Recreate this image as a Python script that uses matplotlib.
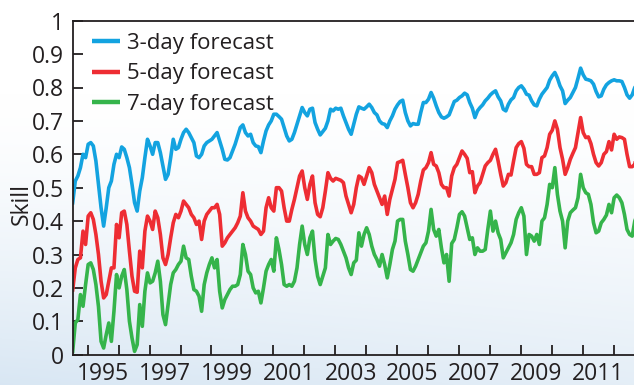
import numpy as np
import matplotlib
matplotlib.use("Agg")
import matplotlib.pyplot as plt
from matplotlib.ticker import FixedLocator, FixedFormatter, NullFormatter

# Monthly forecast skill, first sample at mid-1994
start_year = 1994.515

skill_3day = [
    0.455, 0.520, 0.535, 0.560, 0.600, 0.590, 0.630, 0.635, 0.625, 0.580, 0.510, 0.440,
    0.385, 0.440, 0.500, 0.520, 0.570, 0.600, 0.590, 0.622, 0.615, 0.590, 0.560, 0.510,
    0.455, 0.430, 0.490, 0.530, 0.590, 0.645, 0.625, 0.600, 0.635, 0.635, 0.605, 0.565,
    0.525, 0.540, 0.590, 0.645, 0.615, 0.620, 0.645, 0.665, 0.675, 0.665, 0.650, 0.635,
    0.595, 0.590, 0.600, 0.625, 0.635, 0.640, 0.645, 0.655, 0.665, 0.640, 0.615, 0.585,
    0.583, 0.590, 0.610, 0.630, 0.655, 0.680, 0.688, 0.665, 0.655, 0.660, 0.635, 0.625,
    0.623, 0.605, 0.640, 0.670, 0.688, 0.700, 0.720, 0.720, 0.713, 0.705, 0.680, 0.655,
    0.640, 0.645, 0.665, 0.690, 0.715, 0.740, 0.725, 0.715, 0.735, 0.738, 0.695, 0.675,
    0.658, 0.668, 0.678, 0.700, 0.735, 0.730, 0.738, 0.735, 0.738, 0.715, 0.695, 0.675,
    0.660, 0.690, 0.720, 0.742, 0.738, 0.735, 0.742, 0.750, 0.740, 0.725, 0.718, 0.700,
    0.692, 0.690, 0.680, 0.700, 0.715, 0.735, 0.748, 0.758, 0.762, 0.725, 0.700, 0.685,
    0.692, 0.690, 0.690, 0.725, 0.755, 0.755, 0.765, 0.785, 0.768, 0.745, 0.725, 0.712,
    0.708, 0.712, 0.718, 0.738, 0.758, 0.762, 0.770, 0.775, 0.783, 0.778, 0.755, 0.738,
    0.710, 0.730, 0.740, 0.748, 0.760, 0.768, 0.778, 0.785, 0.790, 0.772, 0.760, 0.735,
    0.730, 0.750, 0.763, 0.770, 0.790, 0.800, 0.805, 0.795, 0.780, 0.777, 0.760, 0.748,
    0.745, 0.765, 0.780, 0.790, 0.800, 0.822, 0.835, 0.845, 0.828, 0.805, 0.790, 0.752,
    0.762, 0.770, 0.785, 0.800, 0.828, 0.858, 0.838, 0.825, 0.823, 0.820, 0.810, 0.788,
    0.772, 0.775, 0.795, 0.808, 0.815, 0.820, 0.823, 0.820, 0.820, 0.818, 0.800, 0.778,
    0.768, 0.778, 0.800, 0.810,
]

skill_5day = [
    0.194, 0.260, 0.285, 0.290, 0.370, 0.330, 0.415, 0.425, 0.405, 0.360, 0.300, 0.220,
    0.170, 0.180, 0.220, 0.260, 0.260, 0.390, 0.350, 0.425, 0.430, 0.390, 0.310, 0.235,
    0.190, 0.187, 0.310, 0.260, 0.370, 0.415, 0.400, 0.375, 0.430, 0.410, 0.360, 0.290,
    0.270, 0.300, 0.350, 0.395, 0.420, 0.410, 0.430, 0.460, 0.450, 0.440, 0.420, 0.410,
    0.390, 0.400, 0.345, 0.400, 0.420, 0.430, 0.440, 0.440, 0.450, 0.420, 0.325, 0.335,
    0.350, 0.360, 0.370, 0.380, 0.395, 0.415, 0.485, 0.430, 0.410, 0.400, 0.385, 0.380,
    0.375, 0.360, 0.370, 0.440, 0.470, 0.440, 0.430, 0.500, 0.500, 0.490, 0.440, 0.400,
    0.400, 0.435, 0.465, 0.500, 0.535, 0.550, 0.500, 0.465, 0.510, 0.535, 0.455, 0.420,
    0.413, 0.440, 0.490, 0.545, 0.528, 0.520, 0.528, 0.525, 0.522, 0.515, 0.475, 0.450,
    0.425, 0.450, 0.500, 0.535, 0.530, 0.510, 0.535, 0.560, 0.545, 0.510, 0.490, 0.470,
    0.450, 0.475, 0.420, 0.465, 0.495, 0.525, 0.575, 0.578, 0.582, 0.540, 0.500, 0.455,
    0.440, 0.455, 0.480, 0.520, 0.553, 0.560, 0.575, 0.605, 0.570, 0.565, 0.545, 0.510,
    0.500, 0.500, 0.475, 0.535, 0.560, 0.570, 0.590, 0.610, 0.600, 0.588, 0.545, 0.548,
    0.485, 0.505, 0.515, 0.540, 0.565, 0.575, 0.582, 0.600, 0.615, 0.580, 0.540, 0.505,
    0.515, 0.540, 0.538, 0.580, 0.620, 0.632, 0.638, 0.618, 0.570, 0.563, 0.563, 0.540,
    0.540, 0.545, 0.590, 0.595, 0.620, 0.660, 0.672, 0.700, 0.675, 0.620, 0.585, 0.540,
    0.560, 0.585, 0.603, 0.620, 0.665, 0.710, 0.665, 0.650, 0.652, 0.632, 0.600, 0.575,
    0.565, 0.575, 0.600, 0.608, 0.638, 0.613, 0.660, 0.645, 0.652, 0.650, 0.645, 0.600,
    0.563, 0.563, 0.570, 0.610,
]

skill_7day = [
    0.010, 0.095, 0.105, 0.180, 0.145, 0.210, 0.270, 0.275, 0.255, 0.210, 0.144, 0.040,
    0.020, 0.060, 0.095, 0.040, 0.130, 0.240, 0.200, 0.235, 0.255, 0.195, 0.100, 0.050,
    0.010, 0.030, 0.150, 0.085, 0.190, 0.245, 0.215, 0.220, 0.245, 0.280, 0.220, 0.120,
    0.090, 0.150, 0.210, 0.245, 0.255, 0.270, 0.280, 0.325, 0.290, 0.285, 0.235, 0.195,
    0.190, 0.175, 0.130, 0.210, 0.245, 0.270, 0.290, 0.260, 0.285, 0.190, 0.140, 0.165,
    0.180, 0.195, 0.205, 0.205, 0.210, 0.240, 0.330, 0.300, 0.250, 0.240, 0.200, 0.185,
    0.190, 0.155, 0.200, 0.250, 0.270, 0.285, 0.250, 0.350, 0.315, 0.270, 0.210, 0.205,
    0.210, 0.205, 0.220, 0.260, 0.330, 0.385, 0.330, 0.300, 0.350, 0.370, 0.285, 0.235,
    0.210, 0.235, 0.260, 0.360, 0.330, 0.340, 0.348, 0.345, 0.330, 0.310, 0.290, 0.260,
    0.240, 0.275, 0.283, 0.365, 0.325, 0.360, 0.380, 0.360, 0.325, 0.300, 0.285, 0.265,
    0.300, 0.270, 0.230, 0.270, 0.315, 0.340, 0.400, 0.405, 0.405, 0.340, 0.300, 0.255,
    0.250, 0.265, 0.285, 0.305, 0.325, 0.335, 0.370, 0.435, 0.375, 0.355, 0.375, 0.320,
    0.275, 0.300, 0.220, 0.333, 0.345, 0.380, 0.420, 0.428, 0.415, 0.380, 0.345, 0.350,
    0.300, 0.320, 0.310, 0.310, 0.315, 0.375, 0.430, 0.370, 0.400, 0.365, 0.345, 0.290,
    0.305, 0.320, 0.335, 0.360, 0.405, 0.425, 0.440, 0.415, 0.300, 0.360, 0.355, 0.340,
    0.360, 0.330, 0.400, 0.410, 0.450, 0.510, 0.500, 0.560, 0.480, 0.430, 0.400, 0.320,
    0.400, 0.425, 0.433, 0.440, 0.470, 0.540, 0.500, 0.485, 0.480, 0.450, 0.395, 0.365,
    0.370, 0.395, 0.405, 0.418, 0.450, 0.425, 0.470, 0.478, 0.470, 0.455, 0.420, 0.375,
    0.360, 0.355, 0.400, 0.420,
]

series_labels = ["3-day forecast", "5-day forecast", "7-day forecast"]
series_colors = ["#13a3e0", "#ee2d33", "#35b44b"]
year_ticks = list(range(1995, 2013))
year_labels = [str(y) for y in range(1995, 2012, 2)]
skill_ticks = [round(0.1 * i, 1) for i in range(11)]
skill_labels = ["0", "0.1", "0.2", "0.3", "0.4", "0.5", "0.6", "0.7", "0.8", "0.9", "1"]

INK = "#231f20"
plt.rcParams["font.family"] = ["Open Sans", "DejaVu Sans"]

W, H = 634, 385
fig = plt.figure(figsize=(W / 100, H / 100), dpi=100)

# soft sky-coloured backdrop, white at the top, pale blue toward the bottom
bg = fig.add_axes([0, 0, 1, 1], zorder=-10)
bg.axis("off")
yy, xx = np.mgrid[0:1:240j, 0:1:320j]
w = np.clip((yy - 0.25) / 0.75, 0, 1) ** 1.4 * (1.0 - 0.3 * xx)
top = np.array([1.0, 1.0, 1.0])
bottom = np.array([0.85, 0.905, 0.955])
img = top * (1 - w[..., None]) + bottom * w[..., None]
bg.imshow(img, extent=(0, 1, 0, 1), aspect="auto", interpolation="bicubic")
bg.set_xlim(0, 1)
bg.set_ylim(0, 1)

left_px, right_px, top_px, bottom_px = 72.7, 634.0, 20.7, 354.7
ax = fig.add_axes([left_px / W, (H - bottom_px) / H,
                   (right_px - left_px) / W, (bottom_px - top_px) / H])
ax.patch.set_alpha(0)

t = start_year + np.arange(len(skill_3day)) / 12.0
for vals, lab, col in zip([skill_3day, skill_5day, skill_7day], series_labels, series_colors):
    ax.plot(t, vals, color=col, lw=2.6, solid_joinstyle="round", label=lab)

ax.set_xlim(1994.515, 2012.657)
ax.set_ylim(0, 1)

for side in ["left", "bottom", "top"]:
    ax.spines[side].set_color(INK)
    ax.spines[side].set_linewidth(1.3)
ax.spines["right"].set_visible(False)

ax.xaxis.set_major_locator(FixedLocator(year_ticks))
ax.xaxis.set_major_formatter(NullFormatter())
ax.xaxis.set_minor_locator(FixedLocator([int(y) + 0.5 for y in year_labels]))
ax.xaxis.set_minor_formatter(FixedFormatter(year_labels))
ax.yaxis.set_major_locator(FixedLocator(skill_ticks))
ax.yaxis.set_major_formatter(FixedFormatter(skill_labels))

ax.tick_params(axis="both", which="major", direction="in", length=7.5, width=1.3,
               color=INK, labelsize=16.5, labelcolor=INK)
ax.tick_params(axis="x", which="minor", length=0, pad=5, labelsize=16.5, labelcolor=INK)
ax.tick_params(axis="y", which="major", pad=6.5)

ax.set_ylabel("Skill", fontsize=16.5, color=INK)
ax.yaxis.set_label_coords(-0.07, 0.452)

leg = ax.legend(loc="upper left", bbox_to_anchor=(92 / W, 1 - 33 / H),
                bbox_transform=fig.transFigure, frameon=False, fontsize=16,
                handlelength=1.26, handletextpad=0.32, labelspacing=0.42,
                borderpad=0, borderaxespad=0)
for line in leg.get_lines():
    line.set_linewidth(3.2)
    line.set_solid_capstyle("butt")
for txt in leg.get_texts():
    txt.set_color(INK)

fig.savefig("out.png", dpi=100)
